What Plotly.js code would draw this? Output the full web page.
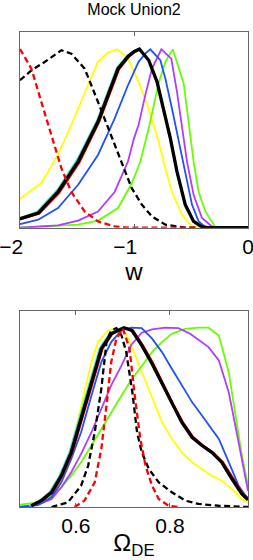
<!DOCTYPE html>
<html>
<head>
<meta charset="utf-8">
<script src="https://cdn.plot.ly/plotly-3.0.1.min.js"></script>
<style>html,body{margin:0;padding:0;background:#fff;}#chart{width:253px;height:560px;}</style>
</head>
<body>
<div id="chart"></div>
<script>
// ---------- Top panel: posterior of w ----------
const wTickVals = [-2, -1, 0];
const wTickText = ['\u22122\u00a0\u00a0\u00a0', '\u22121\u00a0\u00a0\u00a0', '0'];

const wYellowX = [-2, -1.813, -1.667, -1.55, -1.404, -1.316, -1.228, -1.146, -1.053, -0.96, -0.871, -0.784, -0.725, -0.667, -0.579, -0.491, -0.43, 0];
const wYellowY = [0.162, 0.25, 0.407, 0.574, 0.797, 0.928, 0.98, 0.998, 0.946, 0.816, 0.667, 0.481, 0.333, 0.2, 0.072, 0.007, 0, 0];

const wGreenX = [-2, -1.49, -1.316, -1.14, -1.018, -0.944, -0.871, -0.781, -0.725, -0.66, -0.564, -0.52, -0.477, -0.433, -0.374, -0.287, -0.25, 0];
const wGreenY = [0, 0.017, 0.04, 0.11, 0.25, 0.37, 0.556, 0.816, 0.928, 0.998, 0.807, 0.593, 0.37, 0.2, 0.091, 0.004, 0, 0];

const wPurpleX = [-2, -1.667, -1.49, -1.316, -1.17, -1.053, -1.0, -0.96, -0.901, -0.842, -0.76, -0.673, -0.623, -0.579, -0.535, -0.477, -0.404, -0.316, -0.28, 0];
const wPurpleY = [0, 0.013, 0.04, 0.09, 0.2, 0.37, 0.5, 0.574, 0.742, 0.89, 0.998, 0.946, 0.76, 0.556, 0.37, 0.184, 0.054, 0.007, 0, 0];

const wBlueX = [-2, -1.84, -1.667, -1.49, -1.316, -1.17, -1.053, -0.96, -0.901, -0.857, -0.769, -0.725, -0.667, -0.608, -0.55, -0.491, -0.433, -0.374, -0.32, 0];
const wBlueY = [0.02, 0.045, 0.11, 0.24, 0.407, 0.61, 0.797, 0.928, 0.974, 0.998, 0.937, 0.835, 0.667, 0.481, 0.296, 0.128, 0.035, 0.004, 0, 0];

const wCyanX = [-2, -1.85, -1.675, -1.5, -1.325, -1.237, -1.15, -1.06, -1.008, -0.953, -0.871, -0.798, -0.74, -0.681, -0.623, -0.55, -0.477, -0.404, -0.35, 0];
const wCyanY = [0.055, 0.088, 0.21, 0.38, 0.6, 0.75, 0.895, 0.962, 0.986, 1.0, 0.937, 0.816, 0.667, 0.5, 0.314, 0.128, 0.035, 0.004, 0, 0];

const wRedX = [-2, -1.83, -1.655, -1.478, -1.305, -1.217, -1.13, -1.04, -0.99, -0.95, -0.871, -0.798, -0.74, -0.681, -0.623, -0.55, -0.477, -0.404, -0.35, 0];
const wRedY = [0.045, 0.078, 0.195, 0.365, 0.59, 0.74, 0.885, 0.958, 0.984, 0.998, 0.937, 0.816, 0.667, 0.5, 0.314, 0.128, 0.035, 0.004, 0, 0];

const wBlackX = [-2, -1.84, -1.667, -1.49, -1.316, -1.228, -1.14, -1.05, -1.0, -0.953, -0.871, -0.798, -0.74, -0.681, -0.623, -0.55, -0.477, -0.404, -0.35, 0];
const wBlackY = [0.05, 0.082, 0.2, 0.37, 0.593, 0.742, 0.89, 0.96, 0.985, 1.0, 0.937, 0.816, 0.667, 0.5, 0.314, 0.128, 0.035, 0.004, 0, 0];

const wBlackDashX = [-2, -1.9, -1.784, -1.637, -1.55, -1.433, -1.316, -1.2, -1.11, -1.02, -0.93, -0.842, -0.725, -0.608, -0.55, -0.45];
const wBlackDashY = [0.825, 0.88, 0.927, 0.993, 0.974, 0.89, 0.704, 0.519, 0.37, 0.221, 0.128, 0.063, 0.017, 0.004, 0, 0];

const wRedDashX = [-2, -1.9, -1.813, -1.725, -1.637, -1.55, -1.433, -1.316, -1.17, -1.05, -0.45];
const wRedDashY = [1.0, 0.89, 0.704, 0.519, 0.333, 0.2, 0.091, 0.035, 0.007, 0, 0];

// ---------- Bottom panel: posterior of Omega_DE ----------
const oTickVals = [0.6, 0.8];
const oTickText = ['0.6', '0.8'];

const oYellowX = [0.481, 0.519, 0.548, 0.569, 0.59, 0.611, 0.633, 0.647, 0.668, 0.689, 0.707, 0.719, 0.74, 0.762, 0.783, 0.804, 0.825, 0.847, 0.868, 0.889, 0.91, 0.932, 0.953, 0.966];
const oYellowY = [0.007, 0.013, 0.063, 0.156, 0.324, 0.566, 0.808, 0.92, 0.985, 1.0, 0.966, 0.892, 0.752, 0.603, 0.473, 0.38, 0.305, 0.25, 0.212, 0.175, 0.147, 0.1, 0.045, 0.026];

const oGreenX = [0.481, 0.519, 0.548, 0.569, 0.59, 0.611, 0.633, 0.654, 0.675, 0.697, 0.718, 0.74, 0.762, 0.783, 0.804, 0.832, 0.861, 0.882, 0.904, 0.925, 0.939, 0.953, 0.966];
const oGreenY = [0.013, 0.026, 0.063, 0.11, 0.175, 0.25, 0.343, 0.436, 0.529, 0.622, 0.71, 0.79, 0.864, 0.92, 0.966, 0.994, 1.0, 1.0, 0.957, 0.752, 0.51, 0.287, 0.119];

const oPurpleX = [0.481, 0.519, 0.548, 0.569, 0.59, 0.611, 0.633, 0.654, 0.675, 0.697, 0.718, 0.74, 0.762, 0.79, 0.818, 0.843, 0.882, 0.904, 0.925, 0.939, 0.953, 0.966];
const oPurpleY = [0, 0.012, 0.045, 0.11, 0.194, 0.296, 0.417, 0.547, 0.678, 0.79, 0.905, 0.972, 0.991, 1.0, 0.998, 0.966, 0.892, 0.818, 0.64, 0.454, 0.268, 0.09];

const oBlueX = [0.481, 0.519, 0.548, 0.569, 0.59, 0.611, 0.633, 0.654, 0.675, 0.697, 0.718, 0.74, 0.762, 0.783, 0.804, 0.825, 0.847, 0.868, 0.889, 0.904, 0.925, 0.946, 0.966];
const oBlueY = [0, 0.011, 0.054, 0.138, 0.268, 0.417, 0.622, 0.808, 0.92, 0.985, 1.0, 0.998, 0.939, 0.864, 0.771, 0.678, 0.585, 0.51, 0.436, 0.38, 0.25, 0.119, 0.045];

const oCyanX = [0.5, 0.522, 0.544, 0.565, 0.586, 0.607, 0.629, 0.65, 0.671, 0.7, 0.719, 0.74, 0.762, 0.783, 0.804, 0.825, 0.847, 0.868, 0.889, 0.91, 0.932, 0.953, 0.966];
const oCyanY = [0.007, 0.035, 0.082, 0.175, 0.305, 0.49, 0.696, 0.883, 0.966, 1.0, 0.985, 0.901, 0.799, 0.687, 0.575, 0.473, 0.389, 0.343, 0.305, 0.25, 0.156, 0.073, 0.04];

const oRedX = [0.508, 0.529, 0.551, 0.572, 0.593, 0.614, 0.636, 0.657, 0.678, 0.704, 0.722, 0.743, 0.765, 0.786, 0.807, 0.828, 0.85, 0.871, 0.892, 0.913, 0.935, 0.956, 0.966];
const oRedY = [0.007, 0.035, 0.082, 0.175, 0.305, 0.49, 0.696, 0.883, 0.966, 1.0, 0.985, 0.901, 0.799, 0.687, 0.575, 0.473, 0.389, 0.343, 0.305, 0.25, 0.156, 0.073, 0.05];

const oBlackX = [0.505, 0.526, 0.548, 0.569, 0.59, 0.611, 0.633, 0.654, 0.675, 0.702, 0.719, 0.74, 0.762, 0.783, 0.804, 0.825, 0.847, 0.868, 0.889, 0.91, 0.932, 0.953, 0.966];
const oBlackY = [0.007, 0.035, 0.082, 0.175, 0.305, 0.49, 0.696, 0.883, 0.966, 1.0, 0.985, 0.901, 0.799, 0.687, 0.575, 0.473, 0.389, 0.343, 0.305, 0.25, 0.156, 0.073, 0.04];

const oBlackDashX = [0.548, 0.583, 0.611, 0.626, 0.64, 0.654, 0.665, 0.675, 0.686, 0.697, 0.707, 0.72, 0.73, 0.74, 0.755, 0.776, 0.804, 0.833, 0.861, 0.904, 0.966];
const oBlackDashY = [0, 0.026, 0.119, 0.231, 0.417, 0.659, 0.92, 0.985, 0.998, 0.957, 0.864, 0.64, 0.417, 0.305, 0.212, 0.138, 0.082, 0.035, 0.017, 0.007, 0];

const oRedDashX = [0.597, 0.618, 0.64, 0.654, 0.665, 0.675, 0.686, 0.7, 0.714, 0.72, 0.726, 0.737, 0.748, 0.762, 0.776, 0.797, 0.82];
const oRedDashY = [0, 0.035, 0.138, 0.324, 0.566, 0.808, 0.939, 0.994, 0.883, 0.73, 0.6, 0.38, 0.231, 0.119, 0.045, 0.007, 0];

// ---------- styles ----------
const C = {
  yellow: '#FFFF00', green: '#66FF00', purple: '#B03CFF', blue: '#2050FF',
  cyan: '#40E0D0', red: '#FF0000', black: '#000000'
};
const FONT = 'Liberation Sans, Arial, Helvetica, sans-serif';
const DASH = '6px,3.5px';

function tr(x, y, color, width, dash, ax) {
  return {
    x: x, y: y, type: 'scatter', mode: 'lines',
    line: {color: color, width: width, dash: dash || 'solid'},
    xaxis: ax === 2 ? 'x2' : 'x', yaxis: ax === 2 ? 'y2' : 'y',
    hoverinfo: 'skip', showlegend: false
  };
}

const data = [
  tr(wYellowX, wYellowY, C.yellow, 1.8, null, 1),
  tr(wGreenX, wGreenY, C.green, 1.8, null, 1),
  tr(wPurpleX, wPurpleY, C.purple, 1.8, null, 1),
  tr(wBlueX, wBlueY, C.blue, 1.8, null, 1),
  tr(wCyanX, wCyanY, C.cyan, 1.8, null, 1),
  tr(wRedX, wRedY, C.red, 1.8, null, 1),
  tr(wBlackX, wBlackY, C.black, 3.3, null, 1),
  tr(wBlackDashX, wBlackDashY, C.black, 2.3, DASH, 1),
  tr(wRedDashX, wRedDashY, C.red, 2.3, DASH, 1),

  tr(oYellowX, oYellowY, C.yellow, 1.8, null, 2),
  tr(oGreenX, oGreenY, C.green, 1.8, null, 2),
  tr(oPurpleX, oPurpleY, C.purple, 1.8, null, 2),
  tr(oBlueX, oBlueY, C.blue, 1.8, null, 2),
  tr(oCyanX, oCyanY, C.cyan, 1.8, null, 2),
  tr(oRedX, oRedY, C.red, 1.8, null, 2),
  tr(oBlackX, oBlackY, C.black, 3.3, null, 2),
  tr(oBlackDashX, oBlackDashY, C.black, 2.3, DASH, 2),
  tr(oRedDashX, oRedDashY, C.red, 2.3, DASH, 2)
];

const axisCommon = {
  showline: true, mirror: 'ticks', linecolor: '#666', linewidth: 1,
  showgrid: false, zeroline: false, ticks: 'inside', ticklen: 4, tickcolor: '#666',
  tickfont: {family: FONT, size: 21, color: '#000'}, ticklabeloverflow: 'allow',
  fixedrange: true
};
const yCommon = {
  showline: true, mirror: true, linecolor: '#666', linewidth: 1,
  showgrid: false, zeroline: false, ticks: '', showticklabels: false,
  range: [0, 1.095], fixedrange: true
};

const layout = {
  width: 253, height: 560,
  margin: {l: 20, r: 5, t: 32, b: 53},
  paper_bgcolor: '#fff', plot_bgcolor: '#fff',
  font: {family: FONT, color: '#000'},
  title: {text: 'Mock Union2', font: {family: FONT, size: 16, color: '#000'},
          x: 0.5, xref: 'paper', y: 1 - 9 / 560, yref: 'container', yanchor: 'middle', pad: {t: 0, b: 0}},
  xaxis: Object.assign({}, axisCommon, {
    anchor: 'y', range: [-2, 0], tickmode: 'array', tickvals: wTickVals, ticktext: wTickText,
    title: {text: 'w', font: {family: FONT, size: 24, color: '#000'}, standoff: 4}
  }),
  yaxis: Object.assign({}, yCommon, {anchor: 'x', domain: [0.588, 1]}),
  xaxis2: Object.assign({}, axisCommon, {
    anchor: 'y2', range: [0.481, 0.966], tickmode: 'array', tickvals: oTickVals, ticktext: oTickText,
    title: {text: '\u03A9<sub>DE</sub>', font: {family: FONT, size: 24, color: '#000'}, standoff: 0}
  }),
  yaxis2: Object.assign({}, yCommon, {anchor: 'x2', domain: [0, 0.4133]})
};

Plotly.newPlot('chart', data, layout, {displayModeBar: false, staticPlot: true});
</script>
</body>
</html>
